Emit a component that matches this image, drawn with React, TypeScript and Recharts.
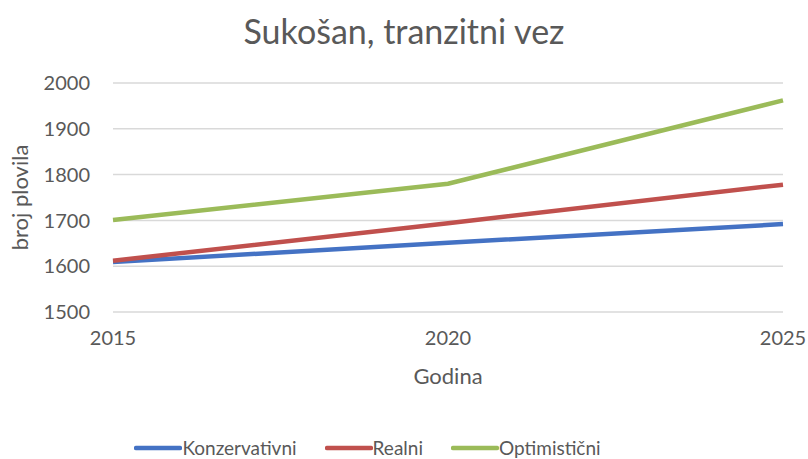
import { LineChart, Line, XAxis, YAxis, CartesianGrid, Legend } from 'recharts';

const years = ['2015', '2020', '2025'];
const konzervativni = [1609, 1651, 1692];
const realni = [1612, 1694, 1778];
const optimisticni = [1701, 1780, 1962];
const yTicks = [1500, 1600, 1700, 1800, 1900, 2000];

const series = [
  { key: 'Konzervativni', color: '#4472c4' },
  { key: 'Realni', color: '#c0504d' },
  { key: 'Optimistični', color: '#9bbb59' },
];

const data = years.map((year, i) => ({
  year,
  Konzervativni: konzervativni[i],
  Realni: realni[i],
  Optimistični: optimisticni[i],
}));

const FONT = 'Lato, "Open Sans", sans-serif';
const TEXT = '#595959';

function LegendContent() {
  return (
    <div style={{ display: 'flex', justifyContent: 'center', alignItems: 'center', gap: 28, paddingRight: 48, height: 22, lineHeight: '22px' }}>
      {series.map((s) => (
        <div key={s.key} style={{ display: 'flex', alignItems: 'center' }}>
          <svg width={48} height={8}>
            <line x1={2} y1={4} x2={46} y2={4} stroke={s.color} strokeWidth={4.5} strokeLinecap="round" />
          </svg>
          <span style={{ color: TEXT, fontSize: 19, fontFamily: FONT }}>{s.key}</span>
        </div>
      ))}
    </div>
  );
}

export default function App() {
  return (
    <div style={{ position: 'relative', width: 808, height: 459, background: '#fff', fontFamily: FONT }}>
      <style>{'html, body { margin: 0; padding: 0; }'}</style>
      <div
        style={{
          position: 'absolute',
          top: 10,
          left: 0,
          width: 808,
          textAlign: 'center',
          fontSize: 34,
          color: TEXT,
        }}
      >
        Sukošan, tranzitni vez
      </div>
      <LineChart
        width={808}
        height={459}
        data={data}
        margin={{ top: 83, right: 25, bottom: 0, left: 0 }}
      >
        <CartesianGrid vertical={false} stroke="#d9d9d9" strokeWidth={1.5} />
        <XAxis
          dataKey="year"
          height={125}
          axisLine={false}
          tickLine={false}
          tickMargin={13}
          tick={{ fill: TEXT, fontSize: 20, fontFamily: FONT }}
          label={{ value: 'Godina', position: 'insideTop', offset: 56, fill: TEXT, fontSize: 22, fontFamily: FONT }}
        />
        <YAxis
          width={113}
          domain={[1500, 2000]}
          ticks={yTicks}
          axisLine={false}
          tickLine={false}
          tickMargin={17}
          tick={{ fill: TEXT, fontSize: 20, fontFamily: FONT }}
          label={{ value: 'broj plovila', angle: -90, position: 'insideLeft', offset: 20, fill: TEXT, fontSize: 22, fontFamily: FONT, style: { textAnchor: 'middle' } }}
        />
        <Legend verticalAlign="bottom" align="center" height={22} content={<LegendContent />} wrapperStyle={{ bottom: 0 }} />
        {series.map((s) => (
          <Line
            key={s.key}
            type="linear"
            dataKey={s.key}
            stroke={s.color}
            strokeWidth={4.5}
            dot={false}
            isAnimationActive={false}
          />
        ))}
      </LineChart>
    </div>
  );
}
